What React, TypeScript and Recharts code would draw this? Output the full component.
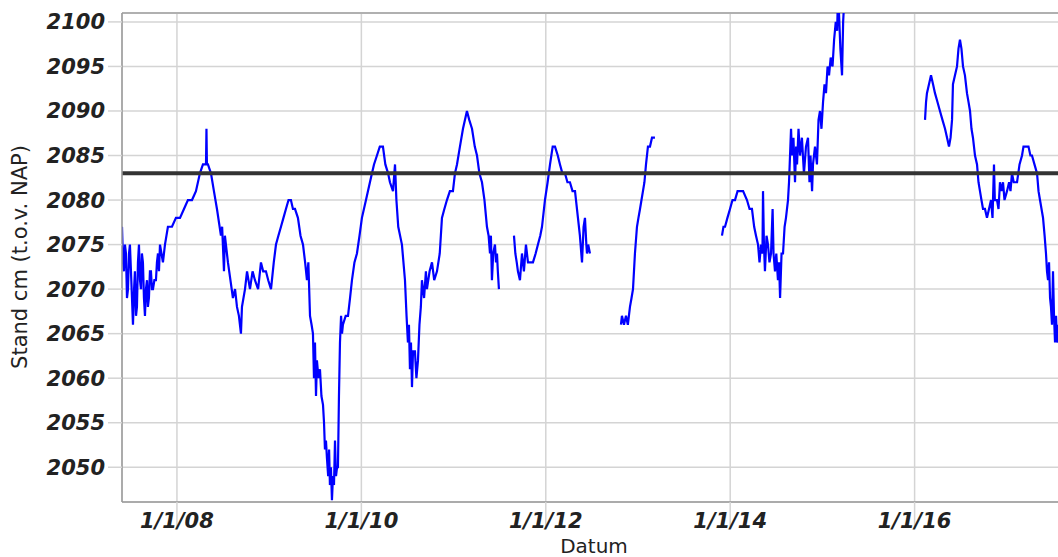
import { CartesianGrid, Line, LineChart, ReferenceLine, XAxis, YAxis } from 'recharts';

const INK = '#222';
const GRID = '#d4d4d4';
const FRAME = '#9a9a9a';
const FONT = '"DejaVu Sans", sans-serif';

// decimal years, null marks a gap in the record
const YEARS = [
  2007.404, 2007.415, 2007.425, 2007.436, 2007.447, 2007.458, 2007.469, 2007.48, 2007.49, 2007.505,
  2007.523, 2007.535, 2007.544, 2007.556, 2007.566, 2007.577, 2007.588, 2007.599, 2007.61, 2007.62,
  2007.631, 2007.642, 2007.653, 2007.664, 2007.675, 2007.685, 2007.696, 2007.707, 2007.718, 2007.729,
  2007.74, 2007.755, 2007.772, 2007.783, 2007.794, 2007.805, 2007.816, 2007.832, 2007.848, 2007.87,
  2007.902, 2007.946, 2007.989, 2008.033, 2008.076, 2008.119, 2008.163, 2008.206, 2008.249, 2008.282,
  2008.315, 2008.32, 2008.325, 2008.336, 2008.369, 2008.401, 2008.434, 2008.477, 2008.49, 2008.51,
  2008.52, 2008.553, 2008.58, 2008.607, 2008.63, 2008.651, 2008.672, 2008.694, 2008.705, 2008.738,
  2008.76, 2008.792, 2008.82, 2008.846, 2008.88, 2008.911, 2008.935, 2008.965, 2008.99, 2009.02,
  2009.05, 2009.074, 2009.1, 2009.128, 2009.155, 2009.182, 2009.21, 2009.236, 2009.258, 2009.28,
  2009.312, 2009.34, 2009.367, 2009.39, 2009.41, 2009.425, 2009.443, 2009.46, 2009.475, 2009.486,
  2009.497, 2009.508, 2009.518, 2009.535, 2009.551, 2009.567, 2009.584, 2009.595, 2009.605, 2009.616,
  2009.627, 2009.64, 2009.65, 2009.659, 2009.67, 2009.681, 2009.692, 2009.703, 2009.714, 2009.725,
  2009.736, 2009.746, 2009.757, 2009.768, 2009.78, 2009.79, 2009.8, 2009.83, 2009.855, 2009.877,
  2009.898, 2009.925, 2009.952, 2009.98, 2010.006, 2010.05, 2010.093, 2010.115, 2010.137, 2010.169,
  2010.2, 2010.234, 2010.26, 2010.29, 2010.31, 2010.343, 2010.365, 2010.38, 2010.4, 2010.44,
  2010.473, 2010.49, 2010.505, 2010.516, 2010.527, 2010.538, 2010.549, 2010.56, 2010.581, 2010.597,
  2010.614, 2010.63, 2010.645, 2010.657, 2010.68, 2010.7, 2010.711, 2010.74, 2010.766, 2010.79,
  2010.82, 2010.85, 2010.874, 2010.9, 2010.928, 2010.96, 2010.993, 2011.015, 2011.037, 2011.069,
  2011.102, 2011.145, 2011.17, 2011.2, 2011.23, 2011.254, 2011.28, 2011.308, 2011.335, 2011.362,
  2011.38, 2011.395, 2011.405, 2011.416, 2011.43, 2011.449, 2011.46, 2011.471, 2011.48, 2011.492,
  2011.568,
  2011.655, 2011.67, 2011.685, 2011.698, 2011.72, 2011.742, 2011.763, 2011.785, 2011.807, 2011.835,
  2011.861, 2011.89, 2011.915, 2011.94, 2011.959, 2011.991, 2012.02, 2012.046, 2012.075, 2012.1,
  2012.13, 2012.154, 2012.18, 2012.208, 2012.235, 2012.262, 2012.29, 2012.317, 2012.349, 2012.37,
  2012.393, 2012.41, 2012.425, 2012.44, 2012.447, 2012.46, 2012.479,
  2012.642,
  2012.815, 2012.826, 2012.848, 2012.87, 2012.89, 2012.913, 2012.93, 2012.946, 2012.967, 2012.989,
  2013.005, 2013.022, 2013.038, 2013.054, 2013.07, 2013.087, 2013.108, 2013.13, 2013.152, 2013.184,
  2013.564,
  2013.911, 2013.927, 2013.944, 2013.97, 2013.998, 2014.025, 2014.052, 2014.08, 2014.106, 2014.14,
  2014.182, 2014.21, 2014.236, 2014.26, 2014.28, 2014.302, 2014.318, 2014.334, 2014.35, 2014.356,
  2014.366, 2014.377, 2014.394, 2014.41, 2014.426, 2014.443, 2014.46, 2014.47, 2014.486, 2014.5,
  2014.518, 2014.53, 2014.541, 2014.557, 2014.573, 2014.59, 2014.605, 2014.627, 2014.638, 2014.649,
  2014.66, 2014.67, 2014.686, 2014.703, 2014.715, 2014.725, 2014.741, 2014.757, 2014.778, 2014.8,
  2014.822, 2014.844, 2014.86, 2014.871, 2014.888, 2014.898, 2014.92, 2014.941, 2014.958, 2014.974,
  2014.99, 2015.007, 2015.023, 2015.039, 2015.056, 2015.072, 2015.09, 2015.11, 2015.127, 2015.145,
  2015.16, 2015.169, 2015.18, 2015.195, 2015.213, 2015.225, 2015.235, 2015.245, 2015.267,
  2015.625,
  2016.113, 2016.124, 2016.134, 2016.156, 2016.178, 2016.2, 2016.221, 2016.248, 2016.275, 2016.302,
  2016.33, 2016.352, 2016.373, 2016.39, 2016.406, 2016.416, 2016.438, 2016.46, 2016.476, 2016.492,
  2016.508, 2016.525, 2016.546, 2016.568, 2016.585, 2016.601, 2016.617, 2016.633, 2016.655, 2016.677,
  2016.693, 2016.709, 2016.725, 2016.742, 2016.763, 2016.785, 2016.807, 2016.829, 2016.845, 2016.861,
  2016.87, 2016.894, 2016.91, 2016.926, 2016.942, 2016.959, 2016.975, 2017.002, 2017.025, 2017.04,
  2017.056, 2017.075, 2017.09, 2017.111, 2017.138, 2017.165, 2017.181, 2017.197, 2017.235, 2017.256,
  2017.273, 2017.3, 2017.328, 2017.344, 2017.36, 2017.393, 2017.41, 2017.425, 2017.436, 2017.447,
  2017.458, 2017.469, 2017.479, 2017.49, 2017.501, 2017.512, 2017.523, 2017.534, 2017.544, 2017.56,
];

// water level in cm t.o.v. NAP
const LEVELS: (number | null)[] = [
  2077, 2073, 2072, 2075, 2074, 2069, 2070, 2074, 2075, 2071,
  2066, 2070, 2072, 2067, 2068, 2073, 2075, 2071, 2070, 2074,
  2073, 2069, 2067, 2070, 2071, 2068, 2069, 2072, 2072, 2070,
  2070, 2071, 2071, 2073, 2074, 2072, 2075, 2074, 2073, 2075,
  2077, 2077, 2078, 2078, 2079, 2080, 2080, 2081, 2083, 2084,
  2084, 2088, 2084, 2084, 2083, 2081, 2079, 2076, 2077, 2072,
  2076, 2073, 2071, 2069, 2070, 2068, 2067, 2065, 2068, 2070,
  2072, 2070, 2072, 2071, 2070, 2073, 2072, 2072, 2071, 2070,
  2073, 2075, 2076, 2077, 2078, 2079, 2080, 2080, 2079, 2079,
  2078, 2076, 2075, 2073, 2071, 2073, 2067, 2066, 2065, 2060,
  2064, 2058, 2062, 2060, 2061, 2058, 2057, 2055, 2052, 2053,
  2051, 2049, 2052, 2048, 2050, 2046.3, 2049, 2048, 2053, 2049,
  2050, 2050, 2058, 2064, 2067, 2065, 2066, 2067, 2067, 2069,
  2071, 2073, 2074, 2076, 2078, 2080, 2082, 2083, 2084, 2085,
  2086, 2086, 2084, 2083, 2082, 2081, 2084, 2080, 2077, 2075,
  2071, 2067, 2064, 2066, 2061, 2064, 2059, 2063, 2063, 2060,
  2062, 2066, 2068, 2071, 2069, 2072, 2070, 2072, 2073, 2071,
  2072, 2074, 2078, 2079, 2080, 2081, 2081, 2083, 2084, 2086,
  2088, 2090, 2089, 2088, 2086, 2085, 2083, 2082, 2080, 2077,
  2076, 2074, 2076, 2071, 2074, 2075, 2073, 2074, 2072, 2070,
  null,
  2076, 2074, 2073, 2072, 2071, 2074, 2072, 2075, 2073, 2073,
  2073, 2074, 2075, 2076, 2077, 2080, 2082, 2084, 2086, 2086,
  2085, 2084, 2083, 2083, 2082, 2082, 2081, 2081, 2078, 2076,
  2073, 2077, 2078, 2075, 2074, 2075, 2074,
  null,
  2066, 2067, 2066, 2067, 2066, 2068, 2069, 2070, 2074, 2077,
  2078, 2079, 2080, 2081, 2082, 2084, 2086, 2086, 2087, 2087,
  null,
  2076, 2077, 2077, 2078, 2079, 2080, 2080, 2081, 2081, 2081,
  2080, 2079, 2079, 2077, 2076, 2075, 2073, 2075, 2074, 2081,
  2075, 2072, 2076, 2075, 2073, 2074, 2079, 2074, 2072, 2074,
  2071, 2073, 2069, 2074, 2074, 2077, 2078, 2080, 2082, 2085,
  2088, 2085, 2087, 2082, 2086, 2084, 2088, 2085, 2087, 2083,
  2086, 2087, 2082, 2085, 2081, 2084, 2086, 2084, 2089, 2090,
  2088, 2091, 2093, 2092, 2095, 2094, 2096, 2095, 2098, 2100,
  2099, 2103, 2101, 2097, 2094, 2100, 2102, 2104, 2104,
  null,
  2089, 2091, 2092, 2093, 2094, 2093, 2092, 2091, 2090, 2089,
  2088, 2087, 2086, 2087, 2089, 2093, 2094, 2095, 2097, 2098,
  2097, 2095, 2094, 2092, 2091, 2090, 2088, 2087, 2085, 2084,
  2082, 2081, 2080, 2079, 2079, 2078, 2079, 2080, 2078, 2084,
  2080, 2080, 2079, 2082, 2081, 2082, 2080, 2081, 2082, 2081,
  2083, 2082, 2082, 2082, 2084, 2085, 2086, 2086, 2086, 2085,
  2085, 2084, 2083, 2081, 2080, 2078, 2076, 2074, 2072, 2071,
  2073, 2069, 2068, 2066, 2072, 2067, 2064, 2067, 2064, 2066,
];

const X_TICKS = [2008, 2010, 2012, 2014, 2016];
const Y_TICKS = [2050, 2055, 2060, 2065, 2070, 2075, 2080, 2085, 2090, 2095, 2100];
const NORM_LEVEL = 2083;

const rows = YEARS.map((t, i) => ({ t, level: LEVELS[i] }));

function DateTick({ x, y, payload }: any) {
  const yy = String(payload.value).slice(2);
  return (
    <text
      x={x}
      y={y}
      textAnchor="middle"
      fill={INK}
      fontFamily={FONT}
      fontSize={21}
      fontWeight="bold"
      fontStyle="italic"
    >
      {`1/1/${yy}`}
    </text>
  );
}

export default function App() {
  return (
    <div
      style={{
        position: 'fixed',
        left: 0,
        top: 0,
        width: 1058,
        height: 557,
        overflow: 'hidden',
        background: '#fff',
      }}
    >
      <LineChart width={1070} height={570} data={rows} margin={{ top: 13, right: 4, bottom: 0, left: 0 }}>
        <CartesianGrid stroke={GRID} strokeWidth={1.5} />
        <XAxis
          dataKey="t"
          type="number"
          domain={[2007.404, 2017.642]}
          ticks={X_TICKS}
          allowDataOverflow
          height={68}
          stroke={FRAME}
          strokeWidth={1.5}
          tickLine={{ stroke: GRID, strokeWidth: 1.5 }}
          tickSize={26}
          tickMargin={0}
          tick={<DateTick />}
          label={{
            content: () => (
              <text x={594} y={553} textAnchor="middle" fill={INK} fontFamily={FONT} fontSize={20}>
                Datum
              </text>
            ),
          }}
        />
        <YAxis
          type="number"
          domain={[2046.1, 2101]}
          ticks={Y_TICKS}
          allowDataOverflow
          width={122}
          stroke={FRAME}
          strokeWidth={1.5}
          tickLine={{ stroke: GRID, strokeWidth: 1.5 }}
          tickSize={14}
          tickMargin={3}
          tick={{ fill: INK, fontFamily: FONT, fontSize: 21, fontWeight: 'bold', fontStyle: 'italic' }}
          label={{
            content: () => (
              <text
                x={20}
                y={257}
                transform="rotate(-90, 20, 257)"
                textAnchor="middle"
                dominantBaseline="central"
                fill={INK}
                fontFamily={FONT}
                fontSize={21}
              >
                Stand cm (t.o.v. NAP)
              </text>
            ),
          }}
        />
        <ReferenceLine y={2101} stroke="#b0b0b0" strokeWidth={2} />
        <Line
          type="linear"
          dataKey="level"
          stroke="#0000ff"
          strokeWidth={2.2}
          dot={false}
          connectNulls={false}
          isAnimationActive={false}
        />
        <ReferenceLine y={NORM_LEVEL} stroke="#333" strokeWidth={4} />
      </LineChart>
    </div>
  );
}
